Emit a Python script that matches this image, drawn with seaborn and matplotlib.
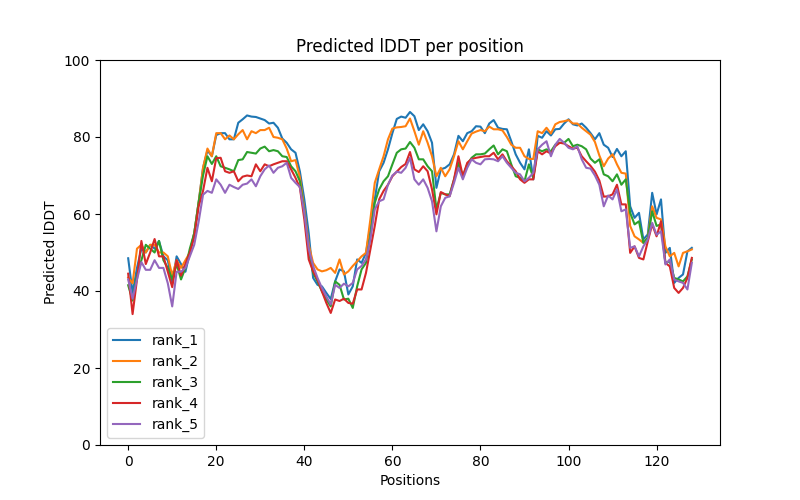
import numpy as np
import pandas as pd
import matplotlib
matplotlib.use('Agg')
import matplotlib.pyplot as plt
import seaborn as sns

# valores (posiciones 0..128)
rank_1 = [48.5, 39.5, 46, 51, 50, 52, 51, 53, 49, 48, 42, 49, 47, 45, 50, 55, 63, 72, 76.5, 75,
          80.5, 81, 81, 79.4, 79.4, 83.7, 84.6, 85.6, 85.3, 85.2, 84.8, 84.4, 83.5, 83.7, 82.4, 79.6, 78.5, 76.8, 75.9,
          71, 63.8, 55, 43.4, 41.6, 41.2, 39.5, 37.9, 42.5, 45.6, 45.1, 39.1, 41.2, 48.2, 47.3, 49.9, 56.9, 63.8,
          71.1, 73.3, 76.8, 81, 84.7, 85.3, 85, 86.5, 85.4, 81.8, 83.3, 81.5, 78.5, 66.8, 71.6, 72, 72.9, 75.5,
          80.3, 78.9, 81, 81.5, 82.8, 82.7, 81, 83.5, 84.4, 82.4, 82.1, 82, 78.9, 75.5, 73.3, 71.6, 76.8, 69,
          80.3, 79.8, 81.5, 80.4, 82, 82.1, 83.5, 84.6, 83.3, 83, 83.5, 82.4, 81, 79.4, 81, 78, 77.2, 74.8, 76.9,
          75, 76.3, 62, 59, 60.3, 53.4, 54.7, 65.5, 59.9, 63.8, 49.9, 51.2, 42.1, 43.4, 44.3, 50.3, 51.2]
rank_2 = [43.5, 42, 51, 52, 50, 52, 52, 50, 50, 49, 44, 48, 46, 48, 50, 55, 63, 72, 77, 75,
          81, 81, 79.4, 80.4, 79.4, 80.7, 81.8, 79.4, 81.5, 81, 81.8, 81.8, 82.4, 80, 79.8, 79.4, 77, 73.7, 74,
          69.5, 61.2, 52, 47.3, 45.6, 45.1, 45.4, 46, 44.7, 48.2, 44.3, 45.1, 46.5, 47.7, 49, 49.9, 58.6, 68.1,
          71.6, 75, 79.4, 82.2, 82.5, 82.6, 82.8, 84.8, 81.5, 78, 81.5, 78.5, 75, 69.8, 72, 69.8, 71.6, 75,
          78.9, 76.8, 78.9, 80.9, 81.4, 81.8, 81.5, 82.7, 82, 82, 81.7, 80, 78, 77.2, 77.2, 75, 74.3, 74.3,
          81.5, 81, 82.4, 80.9, 83.3, 83.9, 84.1, 84.4, 83.5, 83.5, 82.4, 81.5, 80.6, 78.7, 75.2, 72.4, 74.4, 75.5, 72.9,
          70.7, 70.5, 56.9, 54.2, 53.4, 52.5, 53.8, 62, 59, 58.6, 51.6, 49, 49.9, 46.4, 49.9, 50.3, 50.8]
rank_3 = [41.5, 37.5, 44, 48, 52, 51, 50, 53, 48, 46, 43, 47, 43, 46, 51, 55, 63, 70, 75, 73,
          75, 72.4, 72, 71.6, 71.1, 74, 74.2, 76.1, 75.9, 75.7, 77, 77.5, 76.3, 76.6, 76.3, 75, 74.8, 72.4, 71.1,
          68.5, 60.3, 50.3, 44.7, 42.5, 39.9, 37.8, 36, 42.5, 41.6, 37.8, 38, 35.6, 41.2, 45.6, 47.3, 54.2, 62.9,
          66.4, 68.5, 69.8, 72.9, 75.9, 76.8, 77, 78.7, 77.2, 74.2, 74.2, 72.4, 71.1, 61.2, 65.5, 65.1, 65.1, 69,
          73.3, 69.8, 72.9, 74.6, 75.5, 75.5, 75.7, 76.8, 77.8, 75.5, 76.8, 76.3, 72.9, 69.8, 69.4, 68.5, 72.9, 69.4,
          76.8, 76.3, 76.8, 76.3, 78, 78.5, 78.5, 79.5, 77.6, 78, 77.6, 76.8, 74.4, 73.3, 74.2, 70.3, 69.8, 68.5, 70.3,
          67.6, 69, 60.3, 57.3, 58.1, 52.5, 53.8, 60.7, 56.9, 57.3, 47.3, 47.7, 43.4, 43, 42.5, 43.8, 48.2]
rank_4 = [44.5, 34, 43, 53, 47, 50, 53.5, 49, 49, 45, 41, 48, 44, 47, 50, 54, 62, 66, 72, 68.5,
          74.5, 74.6, 71.1, 70.7, 71.1, 68.5, 69.7, 70, 69.8, 72.9, 71.1, 72.9, 72.4, 72.9, 73.3, 73.7, 73.7, 71.6, 69.4,
          66.8, 58.6, 48.2, 45.1, 42.9, 39.9, 36.9, 34.3, 37.8, 37.4, 38, 36.9, 36.7, 40.4, 40.4, 44.7, 50.8, 56.9,
          63.8, 66, 67.6, 69.8, 71, 72.2, 73, 76.1, 71.6, 70.9, 72.4, 71.1, 66.4, 59.9, 65.7, 65.1, 64.6, 69,
          75, 69.8, 73.3, 74.3, 74.6, 74.8, 75, 75, 75.9, 74.2, 75.5, 73.7, 72.4, 71.1, 69, 68.1, 69, 69,
          76.3, 75.5, 76.3, 75.7, 77.6, 78.5, 78.3, 77.6, 77, 77.2, 75, 73.7, 72.5, 71, 68.7, 64.5, 64.6, 65.1, 67.6,
          62.5, 62.5, 49.9, 51.6, 48.6, 48.2, 52.9, 57.3, 54.2, 58.1, 47.3, 46.4, 40.8, 39.5, 40.8, 43.4, 48.6]
rank_5 = [43, 38, 43, 47.5, 45.5, 45.5, 48, 46, 46, 42, 36, 45, 45, 46, 49, 52, 58, 65, 66, 65.5,
          69, 67.6, 65.5, 67.6, 67, 66.5, 67.6, 67.9, 69, 67.2, 69.8, 71.6, 72.6, 70.7, 72, 72.4, 73.3, 69.4, 68.1,
          67, 60.3, 51, 46.5, 43.4, 40.8, 38.6, 36.5, 41.6, 40.8, 41.9, 41.2, 42.1, 45.6, 46.5, 48.2, 53.4, 61.2,
          63.3, 63.8, 67.6, 70, 71, 70.7, 72, 74.6, 69, 67.6, 69, 66.8, 63.3, 55.5, 62, 64.2, 64.6, 68.1,
          72, 69, 72, 74.2, 73.3, 72.9, 74.2, 74.3, 74.2, 73.7, 75, 73.3, 72, 70.7, 70.3, 68.5, 69.4, 70.7,
          76.8, 78, 78.9, 75, 78, 79.5, 78.5, 77.2, 76.8, 77.6, 74.2, 72, 71.8, 70, 67.6, 62, 64.8, 63.8, 66.4,
          60.7, 61.2, 51.2, 51.6, 49, 51.6, 53.4, 57.7, 54.6, 55.5, 46.9, 48.2, 43, 42.5, 42.1, 40.4, 47.3]

series = {'rank_1': rank_1, 'rank_2': rank_2, 'rank_3': rank_3, 'rank_4': rank_4, 'rank_5': rank_5}

frames = []
for name, vals in series.items():
    frames.append(pd.DataFrame({'pos': np.arange(len(vals)), 'plddt': vals, 'rank': name}))
df = pd.concat(frames, ignore_index=True)

fig, ax = plt.subplots(figsize=(8, 5), dpi=100)
sns.lineplot(data=df, x='pos', y='plddt', hue='rank', palette='tab10', ax=ax, linewidth=1.5)

ax.set_ylim(0, 100)
ax.set_title('Predicted lDDT per position')
ax.set_xlabel('Positions')
ax.set_ylabel('Predicted lDDT')
sns.move_legend(ax, 'lower left', title=None)

plt.savefig('out.png', dpi=100)
